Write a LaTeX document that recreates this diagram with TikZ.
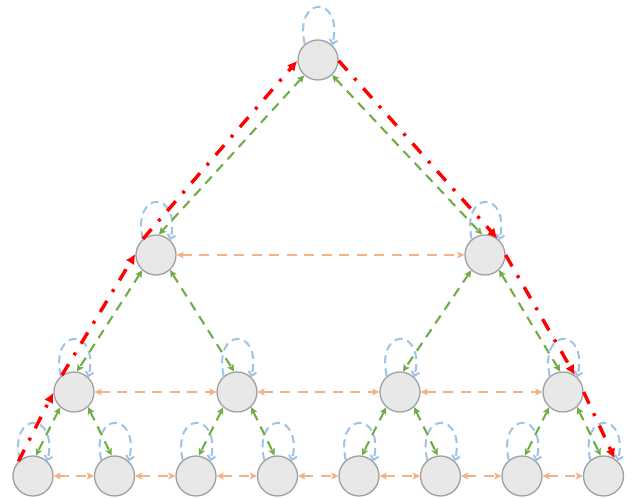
\documentclass[tikz,border=0pt]{standalone}
\usetikzlibrary{arrows.meta}
\definecolor{nodefill}{HTML}{E8E8E8}
\definecolor{nodeline}{HTML}{A0A0A0}
\definecolor{loopblue}{HTML}{9DC3E6}
\definecolor{treegreen}{HTML}{70AD47}
\definecolor{peerorange}{HTML}{F4B183}
\definecolor{routered}{HTML}{FF0000}
\begin{document}
\begin{tikzpicture}[x=1pt,y=1pt,
  vertex/.style={circle,draw=nodeline,fill=nodefill,line width=1.3pt,minimum size=40pt,inner sep=0pt},
  selfloop/.style={draw=loopblue,line width=2pt,dash pattern=on 8pt off 5pt,
    -{Straight Barb[length=4pt,width=8pt]}},
  treelink/.style={draw=treegreen,line width=2.1pt,dash pattern=on 9.5pt off 7pt,
    {Stealth[length=7pt,width=7pt,inset=1.5pt]}-{Stealth[length=7pt,width=7pt,inset=1.5pt]}},
  peerlink/.style={draw=peerorange,line width=2.1pt,dash pattern=on 10pt off 7.5pt,
    {Stealth[length=7pt,width=7pt,inset=1.5pt]}-{Stealth[length=7pt,width=7pt,inset=1.5pt]}},
  routeseg/.style={draw=routered,line width=3.4pt,dash pattern=on 13pt off 10.5pt on 3pt off 10.5pt,
    -{Latex[length=10pt,width=10pt]}},
]
\useasboundingbox (0,0) rectangle (633,498);

% tree nodes
\node[vertex] (r) at (318,438) {};
\node[vertex] (a1) at (156,243) {};
\node[vertex] (a2) at (485,243) {};
\foreach \i/\x in {1/74,2/237,3/400,4/563}
  \node[vertex] (b\i) at (\x,106) {};
\foreach \i/\x in {1/33,2/114.5,3/196,4/277.5,5/359,6/440.5,7/522,8/603.5}
  \node[vertex] (c\i) at (\x,22) {};

% self loops on every node
\foreach \n in {r,a1,a2,b1,b2,b3,b4,c1,c2,c3,c4,c5,c6,c7,c8}
  \draw[selfloop] (\n.130) .. controls +(-11,50) and +(11,50) .. (\n.46);

% parent-child links
\foreach \p/\u/\v in {r/a1/a2,a1/b1/b2,a2/b3/b4,b1/c1/c2,b2/c3/c4,b3/c5/c6,b4/c7/c8}{
  \draw[treelink] (\p.228) -- (\u.82);
  \draw[treelink] (\p.313) -- (\v.98);
}

% links between neighbours on one level
\foreach \s/\t in {a1/a2,b1/b2,b2/b3,b3/b4,c1/c2,c2/c3,c3/c4,c4/c5,c5/c6,c6/c7,c7/c8}
  \draw[peerlink] (\s.east) -- (\t.west);

% route up the left flank and down the right flank
\draw[routeseg] (c1.135) -- (b1.182);
\draw[routeseg] (b1.126) -- (a1.177);
\draw[routeseg] (a1.129) -- (r.182);
\draw[routeseg] (r.358) -- (a2.53);
\draw[routeseg] (a2.0) -- (b4.55);
\draw[routeseg] (b4.0) -- (c8.57);
\end{tikzpicture}
\end{document}
